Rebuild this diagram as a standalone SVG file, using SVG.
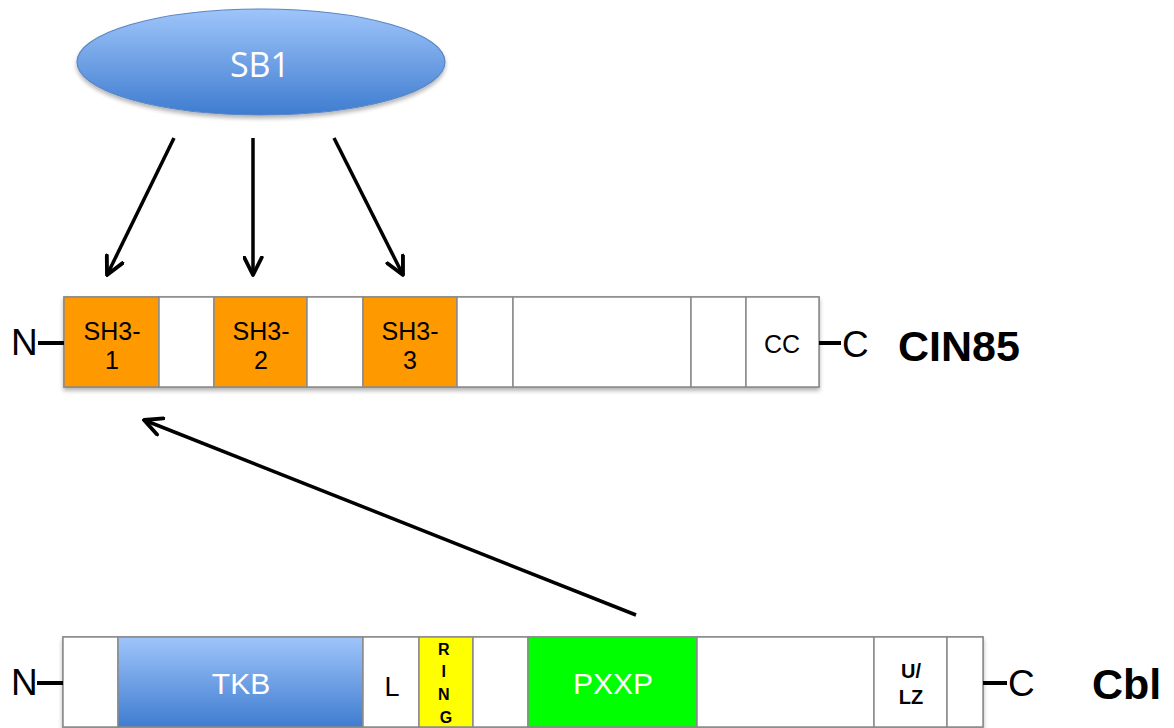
<svg xmlns="http://www.w3.org/2000/svg" width="1174" height="728" viewBox="0 0 1174 728">
  <defs>
    <linearGradient id="blueGrad" x1="0" y1="0" x2="0" y2="1">
      <stop offset="0" stop-color="#9fc5fa"/>
      <stop offset="1" stop-color="#3f7cd0"/>
    </linearGradient>
    <filter id="shadow" x="-10%" y="-10%" width="120%" height="130%">
      <feGaussianBlur in="SourceAlpha" stdDeviation="2"/>
      <feOffset dx="0" dy="3" result="b"/>
      <feComponentTransfer><feFuncA type="linear" slope="0.3"/></feComponentTransfer>
      <feMerge><feMergeNode/><feMergeNode in="SourceGraphic"/></feMerge>
    </filter>
    <marker id="vhead" viewBox="0 0 12 12" refX="11" refY="6" markerWidth="6" markerHeight="6" markerUnits="strokeWidth" orient="auto">
      <path d="M1,1 L11,6 L1,11" fill="none" stroke="#000" stroke-width="2.2" stroke-linecap="round" stroke-linejoin="round"/>
    </marker>
  </defs>
  <style>
    .dom { stroke: #8a8a8a; stroke-width: 1.5; }
    .w { fill: #ffffff; }
    .o { fill: #ff9900; }
    .g { fill: #00ff00; }
    .y { fill: #ffff00; }
    .b { fill: url(#blueGrad); }
    .t { font-family: "Liberation Sans", Arial, sans-serif; text-anchor: middle; fill: #000; }
    .wt { fill: #ffffff; }
    .end { font-family: "Liberation Sans", Arial, sans-serif; font-size: 37px; fill: #000; }
    .name { font-family: "Liberation Sans", Arial, sans-serif; font-size: 43px; font-weight: bold; fill: #000; }
    .tick { stroke: #000; stroke-width: 4; }
    .arrow { stroke: #000; stroke-width: 3.5; fill: none; marker-end: url(#vhead); }
  </style>

  <rect width="1174" height="728" fill="#ffffff"/>

  <!-- SB1 binding partner -->
  <g id="sb1">
    <ellipse cx="261" cy="62" rx="184" ry="53" class="b" stroke="#5b86c4" stroke-width="1.2" filter="url(#shadow)"/>
    <text x="260" y="77" font-family="Open Sans, Liberation Sans, sans-serif" font-size="34" fill="#ffffff" text-anchor="middle">SB1</text>
  </g>

  <!-- CIN85 domain bar -->
  <g id="cin85">
    <g filter="url(#shadow)">
      <rect x="64" y="297" width="755" height="90" class="w dom"/>
    </g>
    <rect x="64" y="297" width="95" height="90" class="o dom"/>
    <rect x="159" y="297" width="55" height="90" class="w dom"/>
    <rect x="214" y="297" width="93" height="90" class="o dom"/>
    <rect x="307" y="297" width="56" height="90" class="w dom"/>
    <rect x="363" y="297" width="94" height="90" class="o dom"/>
    <rect x="457" y="297" width="56" height="90" class="w dom"/>
    <rect x="513" y="297" width="178" height="90" class="w dom"/>
    <rect x="691" y="297" width="55" height="90" class="w dom"/>
    <rect x="746" y="297" width="73" height="90" class="w dom"/>
    <text class="t" font-size="25"><tspan x="112" y="340">SH3-</tspan><tspan x="112" y="369">1</tspan></text>
    <text class="t" font-size="25"><tspan x="261" y="340">SH3-</tspan><tspan x="261" y="369">2</tspan></text>
    <text class="t" font-size="25"><tspan x="410" y="340">SH3-</tspan><tspan x="410" y="369">3</tspan></text>
    <text class="t" font-size="25" x="782" y="353">CC</text>
    <line class="tick" x1="38" y1="343" x2="64" y2="343"/>
    <text class="end" x="11" y="355">N</text>
    <line class="tick" x1="819" y1="343" x2="841" y2="343"/>
    <text class="end" x="842" y="357">C</text>
    <text class="name" x="898" y="361">CIN85</text>
  </g>

  <!-- Cbl domain bar -->
  <g id="cbl">
    <g filter="url(#shadow)">
      <rect x="63" y="637" width="920" height="90" class="w dom"/>
    </g>
    <rect x="63" y="637" width="55" height="90" class="w dom"/>
    <rect x="118" y="637" width="245" height="90" class="b dom"/>
    <rect x="363" y="637" width="56" height="90" class="w dom"/>
    <rect x="419" y="637" width="54" height="90" class="y dom"/>
    <rect x="473" y="637" width="55" height="90" class="w dom"/>
    <rect x="528" y="637" width="169" height="90" class="g dom"/>
    <rect x="697" y="637" width="177" height="90" class="w dom"/>
    <rect x="874" y="637" width="73" height="90" class="w dom"/>
    <rect x="947" y="637" width="36" height="90" class="w dom"/>
    <text class="t wt" font-size="30" x="241" y="694">TKB</text>
    <text class="t" font-size="27" x="392" y="696">L</text>
    <text class="t" font-size="16" font-weight="bold">
      <tspan x="446" y="655">R</tspan>
      <tspan x="446" y="677">I</tspan>
      <tspan x="446" y="700">N</tspan>
      <tspan x="446" y="723">G</tspan>
    </text>
    <text class="t wt" font-size="30" x="613" y="694">PXXP</text>
    <text class="t" font-size="20" font-weight="bold"><tspan x="911" y="678">U/</tspan><tspan x="911" y="704">LZ</tspan></text>
    <line class="tick" x1="37" y1="683" x2="63" y2="683"/>
    <text class="end" x="11" y="695">N</text>
    <line class="tick" x1="983" y1="683" x2="1007" y2="683"/>
    <text class="end" x="1008" y="696">C</text>
    <text class="name" x="1092" y="699">Cbl</text>
  </g>

  <!-- interaction arrows -->
  <g id="connectors">
    <line class="arrow" x1="174" y1="138" x2="107" y2="275"/>
    <line class="arrow" x1="253" y1="138" x2="253" y2="275"/>
    <line class="arrow" x1="334" y1="138" x2="403" y2="275"/>
    <line class="arrow" x1="636" y1="615" x2="144" y2="420"/>
  </g>
</svg>
